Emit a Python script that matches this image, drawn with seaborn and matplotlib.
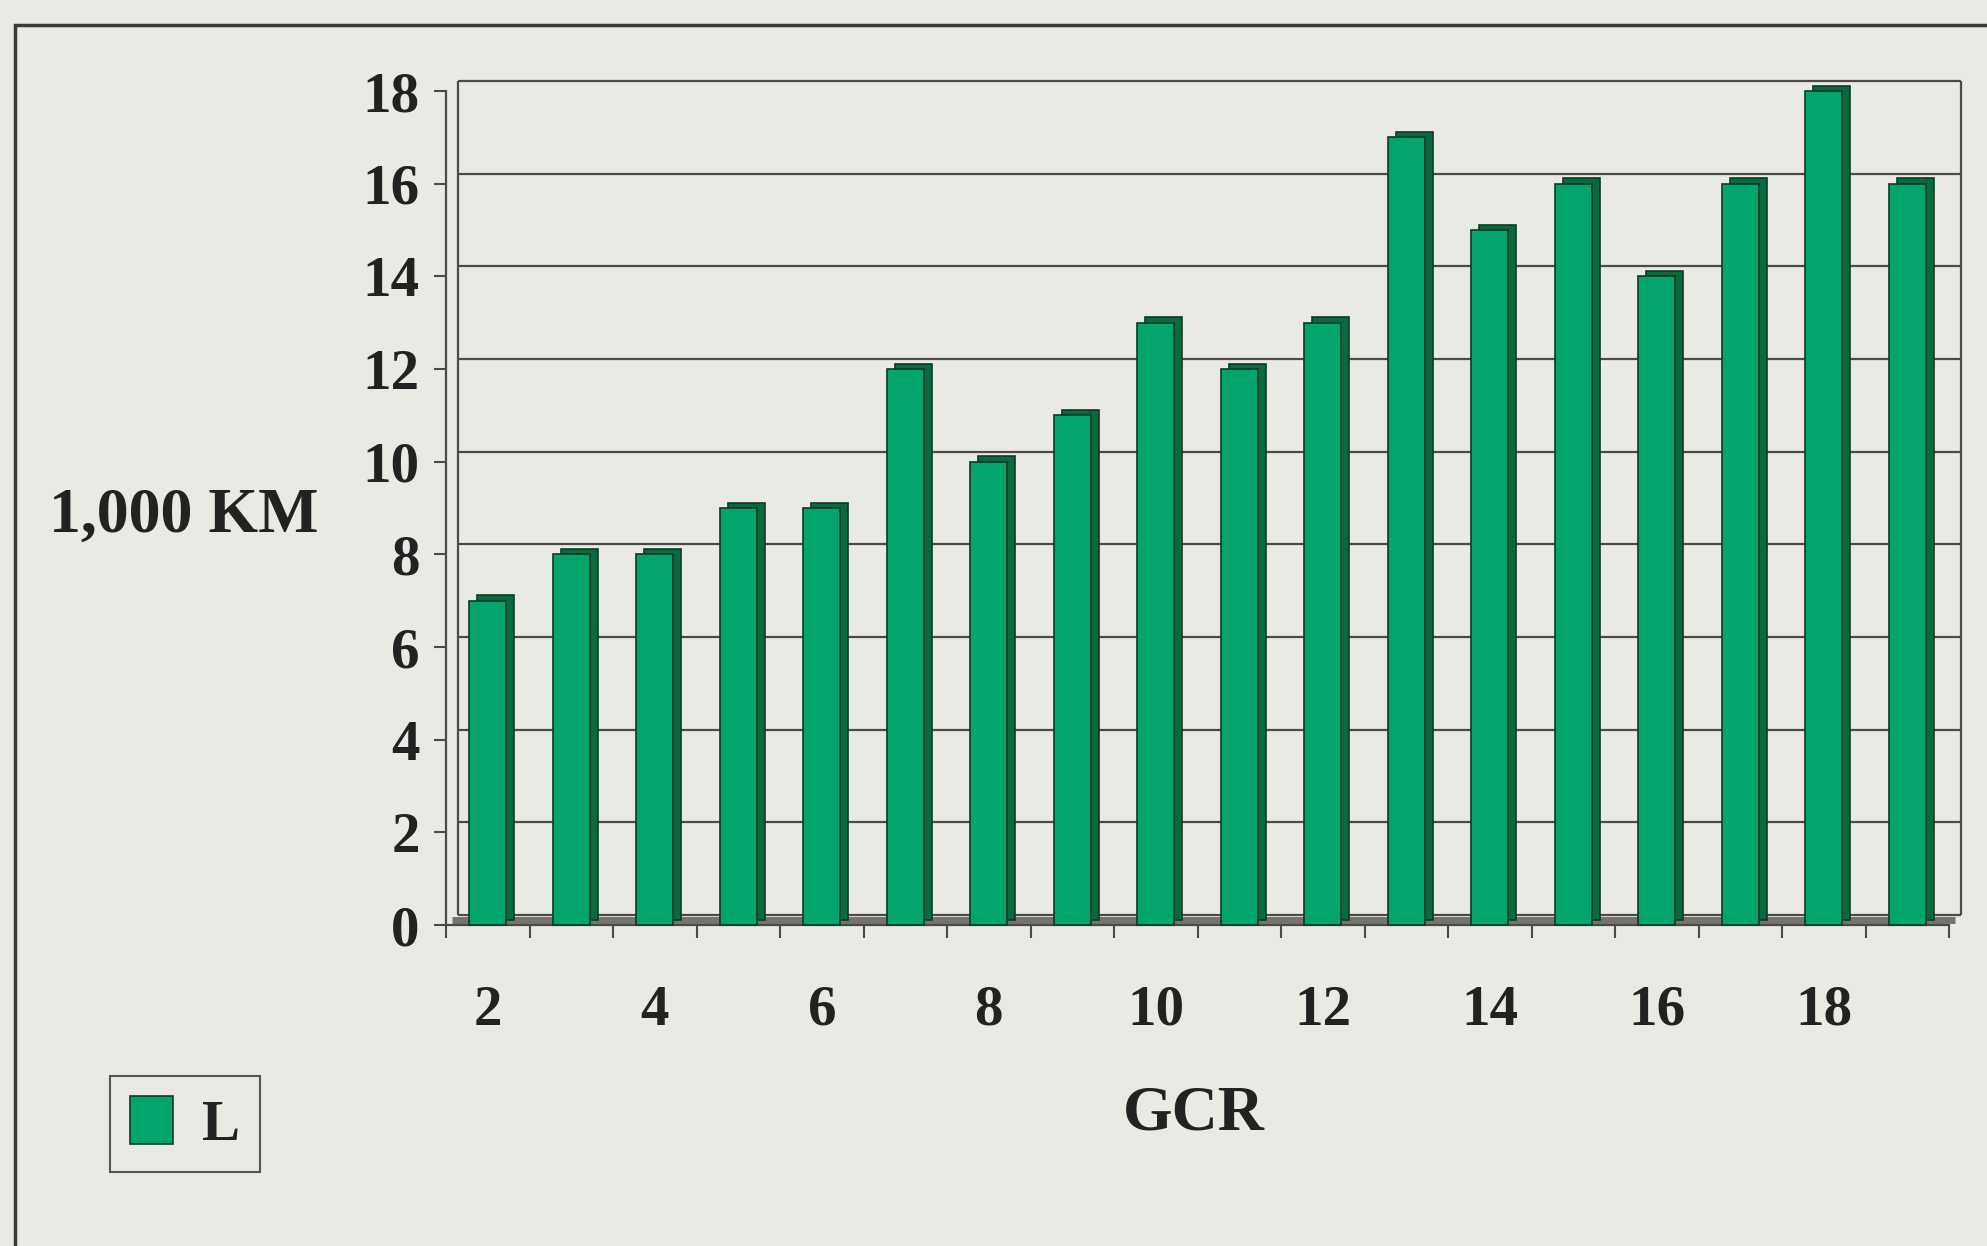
import numpy as np
import pandas as pd
import seaborn as sns
import matplotlib.pyplot as plt
import matplotlib.transforms as mtransforms
from matplotlib.patches import Rectangle

# data (GCR vs length in 1,000 km)
gcr = list(range(2, 20))
length_km = [7, 8, 8, 9, 9, 12, 10, 11, 13, 12, 13, 17, 15, 16, 14, 16, 18, 16]
series_label = 'L'
y_ticks = list(range(0, 19, 2))

df = pd.DataFrame({'GCR': gcr, 'L': length_km})

sns.set_style('white')
plt.rcParams['font.family'] = ['Liberation Serif', 'DejaVu Serif']
plt.rcParams['font.weight'] = 'bold'
plt.rcParams['text.color'] = '#222222'
plt.rcParams['xtick.color'] = '#4a4a46'
plt.rcParams['ytick.color'] = '#4a4a46'
plt.rcParams['xtick.labelcolor'] = '#222222'
plt.rcParams['ytick.labelcolor'] = '#222222'

bg = '#eaeae4'
front = '#04a46d'
side = '#0b6a3d'
edge = '#0d3b26'
line = '#4a4a46'

fig = plt.figure(figsize=(19.87, 12.46), dpi=100, facecolor=bg)
ax = fig.add_axes([0.2245, 0.2576, 0.7564, 0.6693])
ax.set_facecolor('none')

# fake 3D depth: things on the back wall are shifted up-right
depth = mtransforms.ScaledTranslation(0.12, 0.10, fig.dpi_scale_trans)
half = mtransforms.ScaledTranslation(0.06, 0.05, fig.dpi_scale_trans)
bar_depth = mtransforms.ScaledTranslation(0.08, 0.055, fig.dpi_scale_trans)
back = ax.transData + depth

# side / top faces of the bars
sns.barplot(data=df, x='GCR', y='L', color=side, width=0.44, saturation=1,
            edgecolor=edge, linewidth=1.2, ax=ax, zorder=3)
n = len(ax.patches)
for p in ax.patches:
    p.set_transform(ax.transData + bar_depth)
    p.set_clip_on(False)

# front faces
sns.barplot(data=df, x='GCR', y='L', color=front, width=0.44, saturation=1,
            edgecolor=edge, linewidth=1.2, ax=ax, zorder=4)
for p in ax.patches[n:]:
    p.set_clip_on(False)

ax.set_xlim(-0.5, 17.5)
ax.set_ylim(0, 18)

# back wall grid and floor
ax.hlines(y_ticks, -0.5, 17.5, colors=line, lw=1.6, transform=back, zorder=1, clip_on=False)
ax.vlines([-0.5, 17.5], 0, 18, colors=line, lw=1.6, transform=back, zorder=1, clip_on=False)
ax.hlines(0, -0.5, 17.5, colors='#74746d', lw=5, transform=ax.transData + half, zorder=2, clip_on=False)

for s in ['top', 'right']:
    ax.spines[s].set_visible(False)
for s in ['left', 'bottom']:
    ax.spines[s].set_color(line)
    ax.spines[s].set_linewidth(1.6)

ax.set_xticks(range(len(gcr)))
ax.set_xticklabels([str(g) if g % 2 == 0 else '' for g in gcr])
ax.set_xticks(np.arange(-0.5, len(gcr), 1), minor=True)
ax.tick_params(axis='x', which='major', length=0, pad=43, labelsize=41, bottom=True)
ax.tick_params(axis='x', which='minor', length=9, width=1.5, direction='out', bottom=True)

ax.set_yticks(y_ticks)
ax.tick_params(axis='y', length=9, width=1.5, pad=10, labelsize=41, left=True)
ax.set_xlabel('')
ax.set_ylabel('')

fig.text(184 / 1987, 1 - 517 / 1246, '1,000 KM', ha='center', va='center',
         fontsize=46, weight='bold')
fig.text(1194 / 1987, 1 - 1115 / 1246, 'GCR', ha='center', va='center',
         fontsize=46, weight='bold')

# outer frame of the scanned figure
fig.add_artist(Rectangle((15 / 1987, -0.2), 1.2, 1 - 25 / 1246 + 0.2,
                         transform=fig.transFigure, fill=False, lw=2.5, ec='#3a3a36'))

leg = ax.legend(handles=[ax.patches[n]], labels=[series_label], loc='center',
                bbox_to_anchor=(185 / 1987, 1 - 1124 / 1246), bbox_transform=fig.transFigure,
                frameon=True, fancybox=False, edgecolor='#555555', facecolor=bg,
                framealpha=1, fontsize=41, handlelength=0.75, handleheight=0.9,
                handletextpad=0.5, borderpad=0.35)
leg.get_frame().set_linewidth(1.5)

fig.savefig('out.png', dpi=100, facecolor=bg)
